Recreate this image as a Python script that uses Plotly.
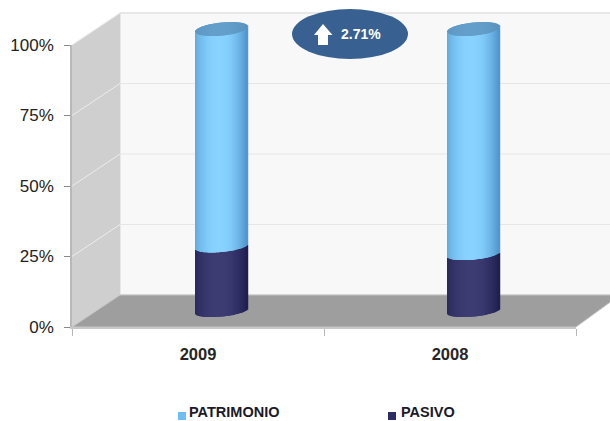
import numpy as np
import plotly.graph_objects as go

categories = ["2009", "2008"]
pasivo = [22.9, 20.2]
patrimonio = [77.1, 79.8]
pct_ticks = [0, 25, 50, 75, 100]
series_names = ["PATRIMONIO", "PASIVO"]
badge_text = "2.71%"

W, H = 610, 421
px = lambda x: x / W
py = lambda y: 1 - y / H

def poly(points, **kw):
    d = "M" + " L".join(f"{px(x):.5f},{py(y):.5f}" for x, y in points) + " Z"
    return dict(type="path", path=d, xref="paper", yref="paper", **kw)

def mix(a, b, t):
    return "rgb(%d,%d,%d)" % tuple(round(a[i] + (b[i] - a[i]) * t) for i in range(3))

PX_PER_UNIT = 2.82
HALF_W = 26
us = np.linspace(-0.98, 0.98, 53)
shade = np.clip(1 - np.abs(us + 0.1) ** 2.2 / 1.2, 0, 1)

def arc(u, c):
    return (2.5 * u - c * np.sqrt(1 - u ** 2)) / PX_PER_UNIT

def strips(starts, ends, edge, centre, back=False):
    xs, base, h, col = [], [], [], []
    for i in range(len(categories)):
        for u, s in zip(us, shade):
            lo = starts[i] + arc(u, 5.5)
            if back:
                hi = ends[i] + (2.5 * u + 6.5 * np.sqrt(1 - u ** 2)) / PX_PER_UNIT
                lo = ends[i] + arc(u, 6.5)
            else:
                hi = ends[i] + arc(u, 5.5)
            xs.append(i + u * HALF_W / 252)
            base.append(lo)
            h.append(hi - lo)
            col.append(mix(edge, centre, s))
    return go.Bar(x=xs, y=h, base=base, width=1.5 / 252, marker=dict(color=col, line_width=0),
                  xaxis="x2", yaxis="y2", showlegend=False, hoverinfo="skip")

tops = [a + b for a, b in zip(pasivo, patrimonio)]
zeros = [0] * len(categories)
FONT = "Liberation Sans"

fig = go.Figure()
# front axis carrier
fig.add_trace(go.Scatter(x=categories, y=[None, None], mode="markers", showlegend=False, hoverinfo="skip"))
fig.add_trace(strips(zeros, pasivo, (30, 30, 80), (60, 60, 115)))
fig.add_trace(strips(pasivo, tops, (80, 150, 205), (135, 210, 255)))
fig.add_trace(strips(tops, tops, (88, 145, 190), (100, 158, 202), back=True))
# legend labels on a page-sized overlay axis
fig.add_trace(go.Scatter(x=[189, 401], y=[413.5, 413.5], mode="text", text=["<b>%s</b>" % s for s in series_names],
                         textposition="middle right", textfont=dict(family=FONT, size=14.5, color="#1a1a2a"),
                         xaxis="x3", yaxis="y3", cliponaxis=False, showlegend=False, hoverinfo="skip"))

shapes = [
    dict(type="rect", xref="paper", yref="paper", x0=px(120), x1=1.05, y0=py(295), y1=py(13),
         fillcolor="#f8f8f8", line=dict(color="#e2e2e2", width=1.5), layer="below"),
    poly([(72, 45), (120, 13), (120, 295), (72, 327)], fillcolor="#cfcfcf", line_width=0, layer="below"),
    poly([(72, 327), (120, 295), (620, 295), (576, 327)], fillcolor="#9e9e9e",
         line=dict(color="#c4c4c4", width=1), layer="below"),
]
for t in pct_ticks[1:]:
    y_back = 295 - 282 * t / 100
    y_front = 327 - 282 * t / 100
    shapes.append(dict(type="line", xref="paper", yref="paper", x0=px(120), x1=1.05, y0=py(y_back), y1=py(y_back),
                       line=dict(color="#e6e6e6", width=1), layer="below"))
    shapes.append(dict(type="line", xref="paper", yref="paper", x0=px(72), x1=px(120), y0=py(y_front), y1=py(y_back),
                       line=dict(color="#ececec", width=1), layer="below"))
# badge
shapes.append(dict(type="circle", xref="paper", yref="paper", x0=px(292), x1=px(408), y0=py(59), y1=py(9),
                   fillcolor="#386192", line_width=0))
shapes.append(poly([(323, 24), (332.5, 35), (328, 35), (328, 45), (318, 45), (318, 35), (314, 35)],
                   fillcolor="white", line_width=0))
# legend swatches
shapes.append(dict(type="rect", xref="paper", yref="paper", x0=px(178), x1=px(186), y0=py(420), y1=py(412),
                   fillcolor="#6fbdf5", line_width=0))
shapes.append(dict(type="rect", xref="paper", yref="paper", x0=px(388), x1=px(396), y0=py(420), y1=py(412),
                   fillcolor="#2e2e66", line_width=0))

annotations = [
    dict(text="<b>%s</b>" % badge_text, xref="paper", yref="paper", x=px(361), y=py(34), xanchor="center",
         yanchor="middle", showarrow=False, font=dict(family=FONT, size=14, color="white")),
]

fig.update_layout(
    width=W, height=H, autosize=False, margin=dict(l=0, r=0, t=0, b=0, pad=0, autoexpand=False),
    paper_bgcolor="white", plot_bgcolor="rgba(0,0,0,0)", barmode="overlay", showlegend=False,
    shapes=shapes, annotations=annotations,
    xaxis=dict(type="category", range=[-0.5, 1.5], domain=[px(72), px(576)], tickson="boundaries", ticks="outside",
               ticklen=7, tickcolor="#b8b8b8", showline=True, linecolor="#c8c8c8", linewidth=1.5, showgrid=False,
               zeroline=False, tickfont=dict(family=FONT, size=16.5, color="#262626", weight="bold"),
               ticklabelstandoff=11, anchor="y", fixedrange=True, automargin=False),
    yaxis=dict(range=[0, 100], domain=[py(327), py(45)], tickvals=pct_ticks, ticktext=[f"{t}%" for t in pct_ticks],
               ticks="outside", ticklen=6, tickcolor="#888888", showline=True, linecolor="#b8b8b8", linewidth=1.5,
               showgrid=False, zeroline=False, tickfont=dict(family=FONT, size=17, color="#222222"),
               ticklabelstandoff=7, anchor="x", fixedrange=True, automargin=False),
    xaxis2=dict(range=[-0.5, 1.5], domain=[px(96), px(600)], visible=False, anchor="y2", fixedrange=True),
    yaxis2=dict(range=[-10, 110], domain=[py(311 + 28.2), py(29 - 28.2)], visible=False, anchor="x2", fixedrange=True),
    xaxis3=dict(range=[0, W], domain=[0, 1], visible=False, anchor="y3", fixedrange=True),
    yaxis3=dict(range=[H, 0], domain=[0, 1], visible=False, anchor="x3", fixedrange=True),
)

fig.write_html("out.html", config=dict(displayModeBar=False),
               post_script="document.body.style.margin='0';document.body.style.overflow='hidden';")
